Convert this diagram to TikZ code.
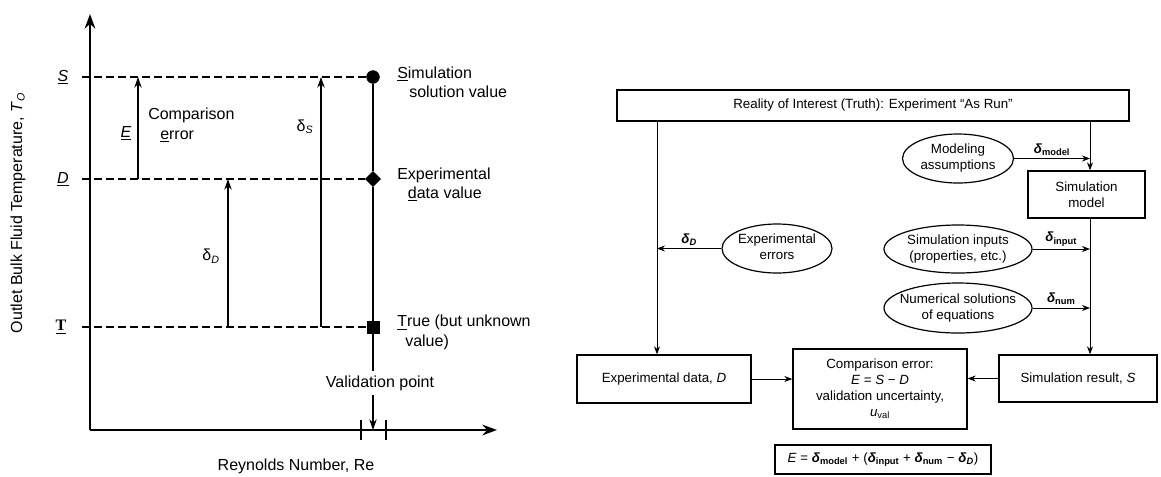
\documentclass[tikz,border=0pt]{standalone}
\usepackage{fontspec}
\setmainfont{Liberation Sans}
\newfontfamily\serifT{Liberation Serif}
\usetikzlibrary{arrows.meta,shapes.geometric}
\newcommand\zc[1]{\makebox[0pt]{\smash{\raisebox{-2.6pt}{\begin{tabular}{@{}c@{}}#1\end{tabular}}}}}
\newcommand\bd[1]{\textbf{\textit{δ}}\textsubscript{\textbf{#1}}}
\tikzset{
 lbl/.style={font=\fontsize{12}{14.5}\selectfont, inner sep=0pt},
 rt/.style={font=\fontsize{10}{12}\selectfont},
 rbox/.style={draw, line width=1pt, rt, align=center, inner sep=0pt},
 rell/.style={draw, ellipse, line width=0.9pt, rt, inner sep=0pt},
 rarr/.style={line width=0.6pt, -{Stealth[length=6pt,width=4.5pt]}},
 larr/.style={line width=0.9pt, -{Stealth[length=8pt,width=5.5pt]}},
 axisln/.style={line width=1.6pt, -{Stealth[length=11pt,width=8pt]}},
 lev/.style={line width=1pt, dash pattern=on 6pt off 3pt},
 mk/.style={fill=black, draw=black, inner sep=0pt},
}
\begin{document}
\begin{tikzpicture}[x=0.75pt,y=-0.75pt]
\useasboundingbox (0,0) rectangle (1161,476);
% ---------------- left plot ----------------
\coordinate (O) at (90,430);
\coordinate (ytop) at (90,14);
\coordinate (xend) at (497,430);
\coordinate (yax) at (82,0);
\coordinate (xE) at (138,0);
\coordinate (xDd) at (228,0);
\coordinate (xSs) at (321,0);
\draw[axisln] (O) -- (ytop);
\draw[axisln] (O) -- (xend);
\draw[line width=1pt] (361,420) -- (361,440);
\draw[line width=1pt] (386,420) -- (386,440);

\node[mk, circle, minimum size=9.6pt] (ms) at (373,77) {};
\node[mk, diamond, minimum width=11.5pt, minimum height=11.5pt] (md) at (373,179) {};
\node[mk, rectangle, minimum size=9pt] (mt) at (373,327) {};

\node[lbl] (lS) at (63,77) {\underline{\textit{S}}};
\node[lbl] (lD) at (63,179) {\underline{\textit{D}}};
\node[lbl] (lT) at (61,327) {\serifT\bfseries\underline{T}};

\draw[lev] (yax |- ms) -- (ms.west);
\draw[lev] (yax |- md) -- (md.west);
\draw[lev] (yax |- mt) -- (mt.west);

\node[lbl, inner sep=3.5pt] (vp) at (380,383) {Validation point};
\draw[line width=1pt] (ms) -- (md) -- (mt) -- (vp.north -| mt);
\draw[larr] (vp.south -| mt) -- (O -| mt);

\draw[larr] (xE |- md) -- (xE |- ms);
\draw[larr] (xDd |- mt) -- (xDd |- md);
\draw[larr] (xSs |- mt) -- (xSs |- ms);

\node[lbl] (lE) at (126,133) {\underline{\textit{E}}};
\node[lbl, anchor=west, align=left] (lcomp) at (148,125) {Comparison\\\hspace*{9pt}\underline{e}rror};
\node[lbl] (ldS) at (305,127) {δ\textsubscript{\textit{S}}};
\node[lbl] (ldD) at (211,256) {δ\textsubscript{\textit{D}}};

\node[lbl, anchor=west, align=left] (tS) at (397,82.5) {\underline{S}imulation\\\hspace*{9pt}solution value};
\node[lbl, anchor=west, align=left] (tD) at (397,184.5) {Experimental\\\hspace*{8pt}\underline{d}ata value};
\node[lbl, anchor=west, align=left] (tT) at (397,332.5) {\underline{T}rue (but unknown\\\hspace*{6pt}value)};

\node[lbl, rotate=90] (ylab) at (18,213) {Outlet Bulk Fluid Temperature, \textit{T}\textsubscript{\textit{O}}};
\node[lbl] (xlab) at (296,466) {Reynolds Number, Re};

% ---------------- right diagram ----------------
\node[rbox, minimum width=384pt, minimum height=23.25pt] (top) at (873,105.5) {Reality of Interest (Truth): Experiment “As Run”};
\node[rbox, minimum width=87.75pt, minimum height=35.25pt] (simmodel) at (1086.5,194.5) {Simulation\\model};
\node[rbox, minimum width=130.5pt, minimum height=36pt] (expdata) at (664,379) {Experimental data, \textit{D}};
\node[rbox, minimum width=130.5pt, minimum height=60pt] (comp) at (880,389) {Comparison error:\\\textit{E} = \textit{S} − \textit{D}\\validation uncertainty,\\\textit{u}\textsubscript{val}};
\node[rbox, minimum width=118.5pt, minimum height=35.25pt] (simres) at (1078,378.5) {Simulation result, \textit{S}};
\node[rbox, minimum width=162pt, minimum height=21.75pt] (formula) at (883,459.5) {\textit{E} = \bd{model} + (\bd{input} + \bd{num} − \bd{\textit{D}})};

\node[rell, minimum width=83.25pt, minimum height=36.75pt] (modeling) at (958,158.5) {\zc{Modeling\\assumptions}};
\node[rell, minimum width=82.5pt, minimum height=36.75pt] (experr) at (777,248.5) {\zc{Experimental\\errors}};
\node[rell, minimum width=111pt, minimum height=36pt] (siminp) at (958,249) {\zc{Simulation inputs\\(properties, etc.)}};
\node[rell, minimum width=111pt, minimum height=37.5pt] (numsol) at (958,308) {\zc{Numerical solutions\\of equations}};

\coordinate (lx) at (657,0);
\coordinate (rx) at (1090,0);
\draw[rarr] (top.south -| lx) -- (expdata.north -| lx);
\draw[rarr] (top.south -| rx) -- (simmodel.north -| rx);
\draw[rarr] (simmodel.south -| rx) -- (simres.north -| rx);
\draw[rarr] (modeling.east) -- (modeling.east -| rx) node[midway, above, rt, inner sep=2pt] {\bd{model}};
\draw[rarr] (siminp.east) -- (siminp.east -| rx) node[midway, above, rt, inner sep=2pt] {\bd{input}};
\draw[rarr] (numsol.east) -- (numsol.east -| rx) node[midway, above, rt, inner sep=2pt] {\bd{num}};
\draw[rarr] (experr.west) -- (experr.west -| lx) node[midway, above, rt, inner sep=2pt] {\bd{\textit{D}}};
\draw[rarr] (expdata.east) -- (comp.west |- expdata.east);
\draw[rarr] (simres.west) -- (comp.east |- simres.west);
\end{tikzpicture}
\end{document}
